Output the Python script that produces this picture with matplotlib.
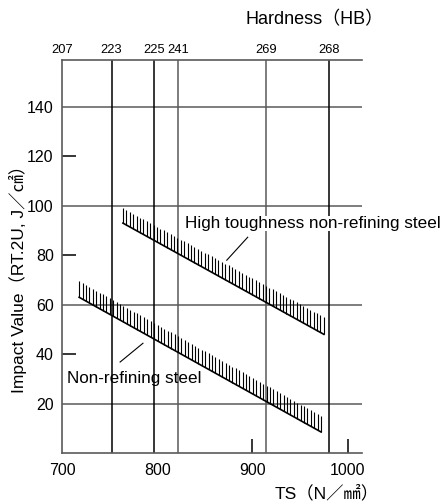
import numpy as np
import matplotlib.pyplot as plt

plt.rcParams['font.family'] = ['Liberation Sans', 'Noto Sans CJK JP', 'DejaVu Sans']

# 경도(HB) 표시 위치 (TS 기준)
hb_labels = ["207", "223", "225", "241", "269", "268"]
hb_ts = [700, 752, 797, 822, 914, 980]
hb_black = [False, True, True, False, False, True]

# 밴드 데이터 : 아래 선 (x, y) 와 빗금 윗끝
high_ts = [764, 975]
high_low = [93, 48]
high_up = [99, 55]

non_ts = [718, 972]
non_low = [63, 8.5]
non_up = [69.5, 15]

grid_y = [20, 60, 100, 140]
tick_y = [40, 80, 120]
ticks_x = [700, 800, 900, 1000]
marks_x = [900, 1000]

gray = "#5a5a5a"

fig = plt.figure(figsize=(4.44, 5.03), dpi=100)
ax = fig.add_axes([62 / 444, 50 / 503, 300 / 444, 393 / 503])
ax.set_xlim(700, 1015)
ax.set_ylim(0, 159)

ax.spines["right"].set_visible(False)
for s in ["left", "top", "bottom"]:
    ax.spines[s].set_color(gray)
    ax.spines[s].set_linewidth(1.2)

# 가로 눈금선
for y in grid_y:
    ax.axhline(y, color=gray, lw=1.1, zorder=1)

# 세로 경도선
for x, b in zip(hb_ts[1:], hb_black[1:]):
    ax.axvline(x, color="black" if b else gray, lw=1.1, zorder=1)

ax.xaxis.remove_overlapping_locs = False
ax.yaxis.remove_overlapping_locs = False
ax.set_yticks(grid_y + tick_y)
ax.set_yticklabels([str(v) for v in grid_y + tick_y])
ax.set_yticks(tick_y, minor=True)
ax.set_xticks(ticks_x)
ax.set_xticklabels([str(v) for v in ticks_x])
ax.set_xticks(marks_x, minor=True)
ax.tick_params(which="major", length=0, labelsize=11.5)
ax.tick_params(axis="y", which="major", pad=6)
ax.tick_params(axis="x", which="major", pad=7)
ax.tick_params(which="minor", direction="in", length=10, width=1.1,
               color="black")

# 위쪽 경도 눈금
top = ax.twiny()
top.set_xlim(ax.get_xlim())
top.set_xticks(hb_ts)
top.set_xticklabels(hb_labels)
top.tick_params(axis="x", length=0, labelsize=9.3, pad=3)
top.tick_params(axis="y", left=False, right=False, labelleft=False)
for s in top.spines.values():
    s.set_visible(False)


def band(xs, low, up, n):
    ax.plot(xs, low, color="black", lw=1.2, zorder=3)
    hx = np.linspace(xs[0], xs[1], n)
    lo = np.interp(hx, xs, low)
    hi = np.interp(hx, xs, up)
    ax.vlines(hx, lo, hi, color="black", lw=0.8, zorder=3)


band(high_ts, high_low, high_up, 60)
band(non_ts, non_low, non_up, 72)

ax.text(829, 93, "High toughness non-refining steel", fontsize=12.3,
        va="center", ha="left", clip_on=False, zorder=4,
        bbox=dict(facecolor="white", edgecolor="none", pad=0))
ax.plot([895, 873], [87.3, 78], color="black", lw=0.8, zorder=4)

ax.text(705, 30.3, "Non-refining steel", fontsize=12.3, va="center",
        ha="left", zorder=4)
ax.plot([785, 761], [44.4, 36.8], color="black", lw=0.8, zorder=4)

fig.text(245 / 444, 1 - 20 / 503, "Hardness（HB）", fontsize=13,
         ha="left", va="center")
fig.text(275 / 444, 1 - 493 / 503, "TS（N／㎟）", fontsize=12.5,
         ha="left", va="center")
fig.text(18 / 444, 1 - 275 / 503, "Impact Value（RT.2U, J／㎠）", fontsize=12.5,
         ha="center", va="center", rotation=90)

fig.savefig("out.png", dpi=100)
